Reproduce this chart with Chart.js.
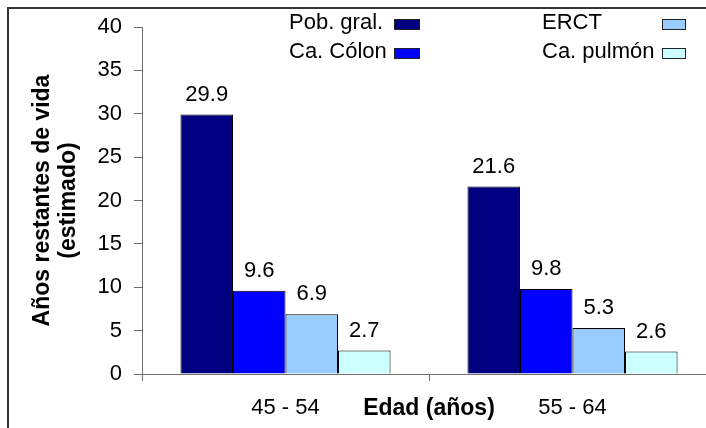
<!DOCTYPE html>
<html lang="es">
<head>
<meta charset="utf-8">
<title>Años restantes de vida</title>
<script src="https://cdn.jsdelivr.net/npm/chart.js@4.4.1/dist/chart.umd.min.js"></script>
<style>
  html, body { margin: 0; padding: 0; background: #fff; overflow: hidden; width: 706px; height: 428px; }
  #wrap { position: relative; width: 706px; height: 428px; overflow: hidden; }
  #c { position: absolute; left: 0; top: 0; }
  #frame { position: absolute; left: 7px; top: 7px; width: 900px; height: 600px;
           border-left: 2px solid #353535; border-top: 2px solid #353535; pointer-events: none; }
</style>
</head>
<body>
<div id="wrap">
  <canvas id="c" width="740" height="428" style="width:740px;height:428px"></canvas>
  <div id="frame"></div>
</div>
<script>
// Age groups on the x axis
const ageGroups = ['45 - 54', '55 - 64'];
// Series names
const seriesNames = ['Pob. gral.', 'Ca. Cólon', 'ERCT', 'Ca. pulmón'];
// Estimated remaining years of life per series
const pobGral  = [29.9, 21.6];
const caColon  = [9.6, 9.8];
const erct     = [6.9, 5.3];
const caPulmon = [2.7, 2.6];
// Y axis range
const yMin = 0, yMax = 40, yStep = 5;

const FONT = "'Liberation Sans', Arial, sans-serif";
const fillColors = ['#000080', '#0000FF', '#99CCFF', '#CCFFFF'];
const seriesValues = [pobGral, caColon, erct, caPulmon];

// Value labels above each bar
const valueLabels = {
  id: 'valueLabels',
  afterDatasetsDraw(chart, args, opts) {
    const ctx = chart.ctx;
    ctx.save();
    ctx.font = opts.font;
    ctx.fillStyle = '#000';
    ctx.textAlign = 'center';
    ctx.textBaseline = 'middle';
    chart.data.datasets.forEach((ds, di) => {
      chart.getDatasetMeta(di).data.forEach((bar, i) => {
        ctx.fillText(ds.data[i].toFixed(1), bar.x, bar.y - opts.offset);
      });
    });
    ctx.restore();
  }
};

// Two-column legend: text first, colour box after it
const boxLegend = {
  id: 'boxLegend',
  afterDraw(chart, args, opts) {
    const ctx = chart.ctx;
    ctx.save();
    ctx.font = opts.font;
    ctx.textAlign = 'left';
    ctx.textBaseline = 'middle';
    chart.data.datasets.forEach((ds, i) => {
      const it = opts.items[i];
      ctx.fillStyle = '#000';
      ctx.fillText(ds.label, it.textX, it.y);
      const top = Math.round(it.y - opts.boxH / 2 + 1);
      ctx.fillStyle = ds.backgroundColor;
      ctx.fillRect(it.boxX, top, it.boxW, opts.boxH);
      ctx.strokeStyle = '#222';
      ctx.lineWidth = 1;
      ctx.strokeRect(it.boxX + 0.5, top + 0.5, it.boxW - 1, opts.boxH - 1);
    });
    ctx.restore();
  }
};

// X axis title, set on the same line as the category labels
const xTitle = {
  id: 'xTitle',
  afterDraw(chart, args, opts) {
    const ctx = chart.ctx;
    const area = chart.chartArea;
    ctx.save();
    ctx.font = opts.font;
    ctx.fillStyle = '#000';
    ctx.textAlign = 'center';
    ctx.textBaseline = 'middle';
    ctx.fillText(opts.text, (area.left + area.right) / 2, area.bottom + opts.offset);
    ctx.restore();
  }
};

const axisGray = '#6e6e6e';

new Chart(document.getElementById('c'), {
  type: 'bar',
  data: {
    labels: ageGroups,
    datasets: seriesNames.map((name, i) => ({
      label: name,
      data: seriesValues[i],
      backgroundColor: fillColors[i],
      borderColor: '#000',
      borderWidth: 1,
      borderSkipped: 'start',
      categoryPercentage: 0.732,
      barPercentage: 1.0
    }))
  },
  options: {
    responsive: false,
    animation: false,
    devicePixelRatio: 1,
    layout: { padding: { left: 16, right: 24, top: 27, bottom: 0 } },
    plugins: {
      legend: { display: false },
      tooltip: { enabled: false },
      valueLabels: { font: `22px ${FONT}`, offset: 20 },
      boxLegend: {
        font: `22px ${FONT}`,
        boxH: 11,
        items: [
          { textX: 289, boxX: 394, boxW: 26, y: 23 },
          { textX: 289, boxX: 394, boxW: 26, y: 52 },
          { textX: 542, boxX: 662, boxW: 24, y: 23 },
          { textX: 542, boxX: 662, boxW: 24, y: 52 }
        ]
      },
      xTitle: { text: 'Edad (años)', font: `bold 23px ${FONT}`, offset: 35 }
    },
    scales: {
      x: {
        offset: true,
        afterFit(scale) { scale.height = 54; },
        grid: {
          offset: true,
          drawOnChartArea: false,
          drawTicks: true,
          tickLength: 7,
          color: axisGray,
          lineWidth: 1
        },
        border: { display: true, color: axisGray, width: 1 },
        ticks: {
          color: '#000',
          font: { family: FONT, size: 22 },
          padding: 14,
          maxRotation: 0
        }
      },
      y: {
        min: yMin,
        max: yMax,
        afterFit(scale) { scale.width = 126; },
        grid: {
          drawOnChartArea: false,
          drawTicks: true,
          tickLength: 8,
          color: axisGray,
          lineWidth: 1
        },
        border: { display: true, color: axisGray, width: 1 },
        ticks: {
          stepSize: yStep,
          color: '#000',
          font: { family: FONT, size: 22 },
          padding: 12
        },
        title: {
          display: true,
          text: ['Años restantes de vida', '(estimado)'],
          color: '#000',
          font: { family: FONT, size: 23, weight: 'bold', lineHeight: 1.15 },
          padding: { top: 13, bottom: 0 }
        }
      }
    }
  },
  plugins: [valueLabels, boxLegend, xTitle]
});
</script>
</body>
</html>
